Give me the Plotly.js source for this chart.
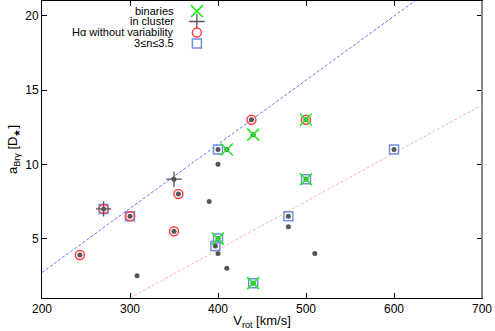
<!DOCTYPE html>
<html>
<head>
<meta charset="utf-8">
<script src="https://cdn.plot.ly/plotly-3.0.1.min.js"></script>
<style>
  html, body { margin: 0; padding: 0; background: #fff; }
  #chart { width: 495px; height: 331px; }
</style>
</head>
<body>
<div id="chart"></div>
<script>
// every star in the sample (grey dot)
const allVrot = [243, 270, 300, 308, 350, 350, 355, 390, 397, 400, 400, 400, 400, 410, 410, 438, 440, 440, 480, 480, 500, 500, 510, 600];
const allA    = [3.9, 7, 6.5, 2.5, 9, 5.5, 8, 7.5, 4.5, 4, 5, 10, 11, 11, 3, 13, 12, 2, 6.5, 5.8, 13, 9, 4, 11];

// subsets
const binVrot = [500, 440, 410, 500, 400, 440];
const binA    = [13, 12, 11, 9, 5, 2];

const clusterVrot = [270, 350];
const clusterA    = [7, 9];

const halphaVrot = [438, 500, 355, 350, 270, 300, 243];
const halphaA    = [13, 13, 8, 5.5, 7, 6.5, 3.9];

const sersicVrot = [400, 600, 500, 480, 400, 397, 440, 270, 300];
const sersicA    = [11, 11, 9, 6.5, 5, 4.5, 2, 7, 6.5];

// fitted lines (end points)
const upperFitVrot = [200, 700];
const upperFitA    = [2.72, 24.3];
const lowerFitVrot = [300, 700];
const lowerFitA    = [1, 14];

const legendLabels = ['binaries', 'in cluster', 'H\u03b1 without variability', '3\u2264n\u22643.5'];

const FONT = 'Liberation Sans, Arial, sans-serif';
const GREEN = '#22ee22';
const RED = '#ff4040';
const BLUE = '#7090e8';
const GREY = '#555555';

const markerDefs = [
    { symbol: 'x-thin-open', size: 12, color: GREEN, width: 1.6 },
    { symbol: 'cross-thin-open', size: 11, color: GREY, width: 1.3 },
    { symbol: 'circle-open', size: 9, color: RED, width: 1.5 },
    { symbol: 'square-open', size: 9, color: BLUE, width: 1.5 },
];

function markerTrace(x, y, def, axes) {
    return {
        type: 'scatter',
        mode: 'markers',
        x, y,
        xaxis: axes ? 'x2' : 'x',
        yaxis: axes ? 'y2' : 'y',
        showlegend: false,
        hoverinfo: 'skip',
        marker: { symbol: def.symbol, size: def.size, color: def.color, line: { color: def.color, width: def.width } },
    };
}

const traces = [
    {
        type: 'scatter', mode: 'lines', x: upperFitVrot, y: upperFitA, showlegend: false,
        line: { color: '#7070ff', width: 1, dash: '3px,2px' }, hoverinfo: 'skip',
    },
    {
        type: 'scatter', mode: 'lines', x: lowerFitVrot, y: lowerFitA, showlegend: false,
        line: { color: '#ffb0b0', width: 1, dash: '3px,2px' }, hoverinfo: 'skip',
    },
    {
        type: 'scatter', mode: 'markers', x: allVrot, y: allA, showlegend: false, hoverinfo: 'skip',
        marker: { symbol: 'circle', size: 5, color: GREY },
    },
    markerTrace(sersicVrot, sersicA, markerDefs[3]),
    markerTrace(halphaVrot, halphaA, markerDefs[2]),
    markerTrace(clusterVrot, clusterA, markerDefs[1]),
    markerTrace(binVrot, binA, markerDefs[0]),
];

// legend: right aligned text with symbol to the right (in an overlay 0..1 axis)
const legendY = [0.966, 0.931, 0.894, 0.857];
const legendSymX = 0.352;
const legendTextX = 0.305;
markerDefs.forEach((def, i) => {
    traces.push(markerTrace([legendSymX], [legendY[i]], def, true));
});

const annotations = legendLabels.map((label, i) => ({
    xref: 'paper', yref: 'paper', x: legendTextX, y: legendY[i],
    xanchor: 'right', yanchor: 'middle', showarrow: false,
    text: label, font: { family: FONT, size: 11, color: '#000' },
}));

const axisCommon = {
    showgrid: false, zeroline: false,
    showline: true, linecolor: '#000', linewidth: 1,
    mirror: 'ticks', ticks: 'inside', ticklen: 5, tickwidth: 1, tickcolor: '#000',
    tickfont: { family: FONT, size: 12, color: '#000' },
};

const layout = {
    width: 495, height: 331,
    margin: { l: 42, r: 13, t: 1, b: 33 },
    paper_bgcolor: '#fff', plot_bgcolor: '#fff',
    font: { family: FONT, size: 12, color: '#000' },
    xaxis: {
        ...axisCommon,
        range: [200, 700], tickvals: [200, 300, 400, 500, 600, 700],
        title: { text: 'V<sub>rot</sub> [km/s]', font: { family: FONT, size: 13 }, standoff: 0 },
    },
    yaxis: {
        ...axisCommon,
        range: [1, 21], tickvals: [5, 10, 15, 20],
        title: { text: 'a<sub>Br\u03b3</sub> [D<sub>\u2605</sub>]', font: { family: FONT, size: 13 }, standoff: 4 },
    },
    xaxis2: { overlaying: 'x', range: [0, 1], visible: false },
    yaxis2: { overlaying: 'y', range: [0, 1], visible: false },
    annotations,
    shapes: [
        { type: 'line', xref: 'paper', yref: 'paper', x0: 1, x1: 1, y0: 0, y1: 1, line: { color: '#888', width: 2 } },
    ],
};

Plotly.newPlot('chart', traces, layout, { staticPlot: true, displayModeBar: false });
</script>
</body>
</html>
